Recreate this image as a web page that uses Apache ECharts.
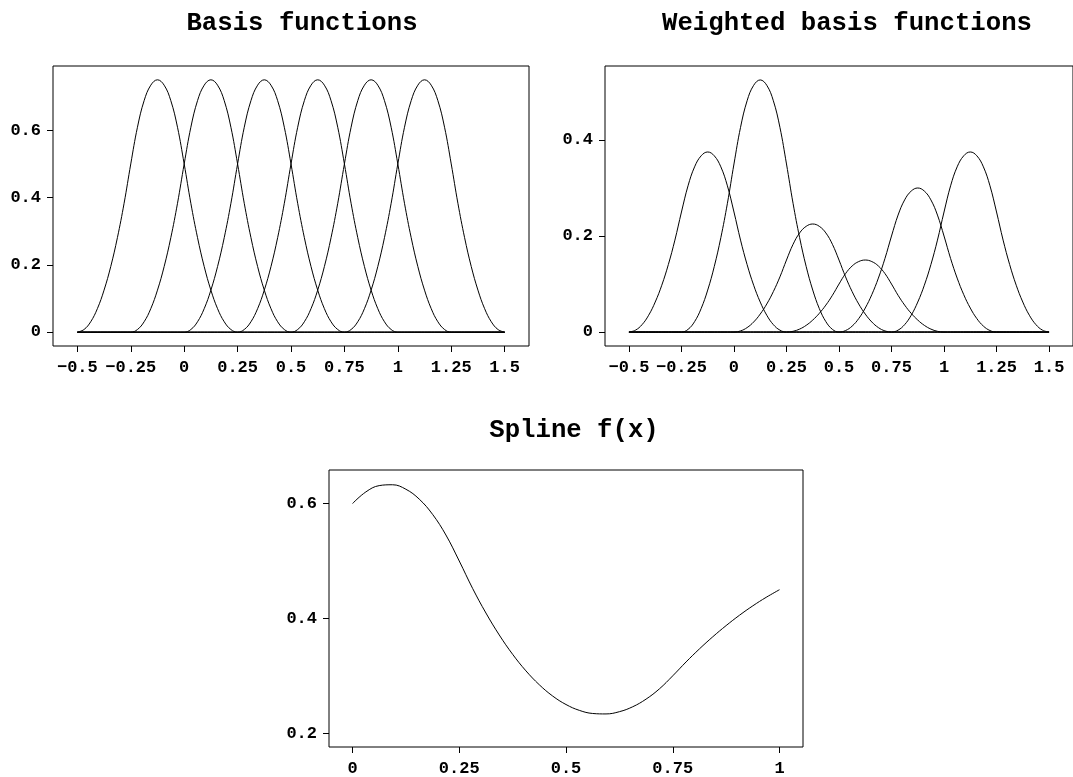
<!DOCTYPE html>
<html>
<head>
<meta charset="utf-8">
<script src="https://cdn.jsdelivr.net/npm/echarts@6/dist/echarts.min.js"></script>
<style>
  html, body { margin: 0; padding: 0; background: #fff; }
  #main { width: 1073px; height: 777px; }
</style>
</head>
<body>
<div id="main"></div>
<script>
// x grid for the basis panels (step 1/32)
var basisStep = 0.03125;
var basisXStart = -0.5;
var basisXEnd = 1.5;
// shape of one basis bump, read at steps of 1/32 over its support
var bumpShape = [0, 0.008, 0.031, 0.07, 0.125, 0.195, 0.281, 0.383, 0.5, 0.609, 0.688, 0.734, 0.75,
                 0.734, 0.688, 0.609, 0.5, 0.383, 0.281, 0.195, 0.125, 0.07, 0.031, 0.008, 0];
// left end of each bump support
var bumpStarts = [-0.5, -0.25, 0, 0.25, 0.5, 0.75];
// peak heights of the weighted bumps
var weightedPeaks = [0.375, 0.525, 0.225, 0.15, 0.3, 0.375];

// spline f(x) read at steps of 1/32
var splineX = [0, 0.03125, 0.0625, 0.09375, 0.125, 0.15625, 0.1875, 0.21875, 0.25,
               0.28125, 0.3125, 0.34375, 0.375, 0.40625, 0.4375, 0.46875, 0.5,
               0.53125, 0.5625, 0.59375, 0.625, 0.65625, 0.6875, 0.71875, 0.75,
               0.78125, 0.8125, 0.84375, 0.875, 0.90625, 0.9375, 0.96875, 1];
var splineY = [0.6, 0.6203, 0.6313, 0.6328, 0.625, 0.6078, 0.5813, 0.5453, 0.5,
               0.4523, 0.4094, 0.3711, 0.3375, 0.3086, 0.2844, 0.2648, 0.25,
               0.2398, 0.2344, 0.2336, 0.2375, 0.2461, 0.2594, 0.2773, 0.3,
               0.3242, 0.3469, 0.368, 0.3875, 0.4055, 0.4219, 0.4367, 0.45];

var basisTicks = [-0.5, -0.25, 0, 0.25, 0.5, 0.75, 1, 1.25, 1.5];
var basisYTicks = [0, 0.2, 0.4, 0.6];
var weightedYTicks = [0, 0.2, 0.4];
var splineXTicks = [0, 0.25, 0.5, 0.75, 1];
var splineYTicks = [0.2, 0.4, 0.6];

var font = '"Liberation Mono", "Courier New", monospace';

function bumpSeries(i, scale) {
  var data = [];
  var n = Math.round((basisXEnd - basisXStart) / basisStep);
  var off = Math.round((bumpStarts[i] - basisXStart) / basisStep);
  for (var k = 0; k <= n; k++) {
    var j = k - off;
    var v = (j >= 0 && j < bumpShape.length) ? bumpShape[j] * scale : 0;
    data.push([basisXStart + k * basisStep, v]);
  }
  return data;
}

function fmt(v) {
  return String(v).replace('-', '\u2212');
}

function axisOf(idx, min, max, ticks, margin) {
  return {
    type: 'value', gridIndex: idx, min: min, max: max,
    axisLine: { show: false, onZero: false },
    splitLine: { show: false },
    axisTick: { show: true, length: 6, lineStyle: { color: '#000' }, customValues: ticks },
    axisLabel: {
      customValues: ticks, formatter: fmt, margin: margin,
      color: '#000', fontFamily: font, fontWeight: 'bold', fontSize: 17
    }
  };
}

var series = [];
bumpStarts.forEach(function (s, i) {
  series.push({ type: 'line', xAxisIndex: 0, yAxisIndex: 0, data: bumpSeries(i, 1) });
  series.push({ type: 'line', xAxisIndex: 1, yAxisIndex: 1, data: bumpSeries(i, weightedPeaks[i] / 0.75) });
});
series.push({
  type: 'line', xAxisIndex: 2, yAxisIndex: 2,
  data: splineX.map(function (x, i) { return [x, splineY[i]]; })
});
series.forEach(function (s) {
  s.showSymbol = false;
  s.smooth = 0.4;
  s.silent = true;
  s.lineStyle = { color: '#000', width: 1 };
});

var titleStyle = { color: '#000', fontFamily: font, fontWeight: 'bold', fontSize: 25.7 };

var myChart = echarts.init(document.getElementById('main'));
myChart.setOption({
  animation: false,
  backgroundColor: '#fff',
  title: [
    { text: 'Basis functions', left: 297, top: 6, textAlign: 'center', textStyle: titleStyle },
    { text: 'Weighted basis functions', left: 842, top: 6, textAlign: 'center', textStyle: titleStyle },
    { text: 'Spline f(x)', left: 569, top: 413, textAlign: 'center', textStyle: titleStyle }
  ],
  grid: [
    { left: 53, top: 66, width: 476, height: 280, show: true, borderColor: '#000', borderWidth: 1 },
    { left: 605, top: 66, width: 476, height: 280, show: true, borderColor: '#000', borderWidth: 1 },
    { left: 329, top: 470, width: 474, height: 281, show: true, borderColor: '#000', borderWidth: 1 }
  ],
  xAxis: [
    axisOf(0, -0.614, 1.614, basisTicks, 13),
    axisOf(1, -0.614, 1.614, basisTicks, 13),
    axisOf(2, -0.055, 1.055, splineXTicks, 13)
  ],
  yAxis: [
    axisOf(0, -0.041, 0.791, basisYTicks, 12),
    axisOf(1, -0.029, 0.554, weightedYTicks, 12),
    axisOf(2, 0.176, 0.6585, splineYTicks, 12)
  ],
  series: series
});
</script>
</body>
</html>
